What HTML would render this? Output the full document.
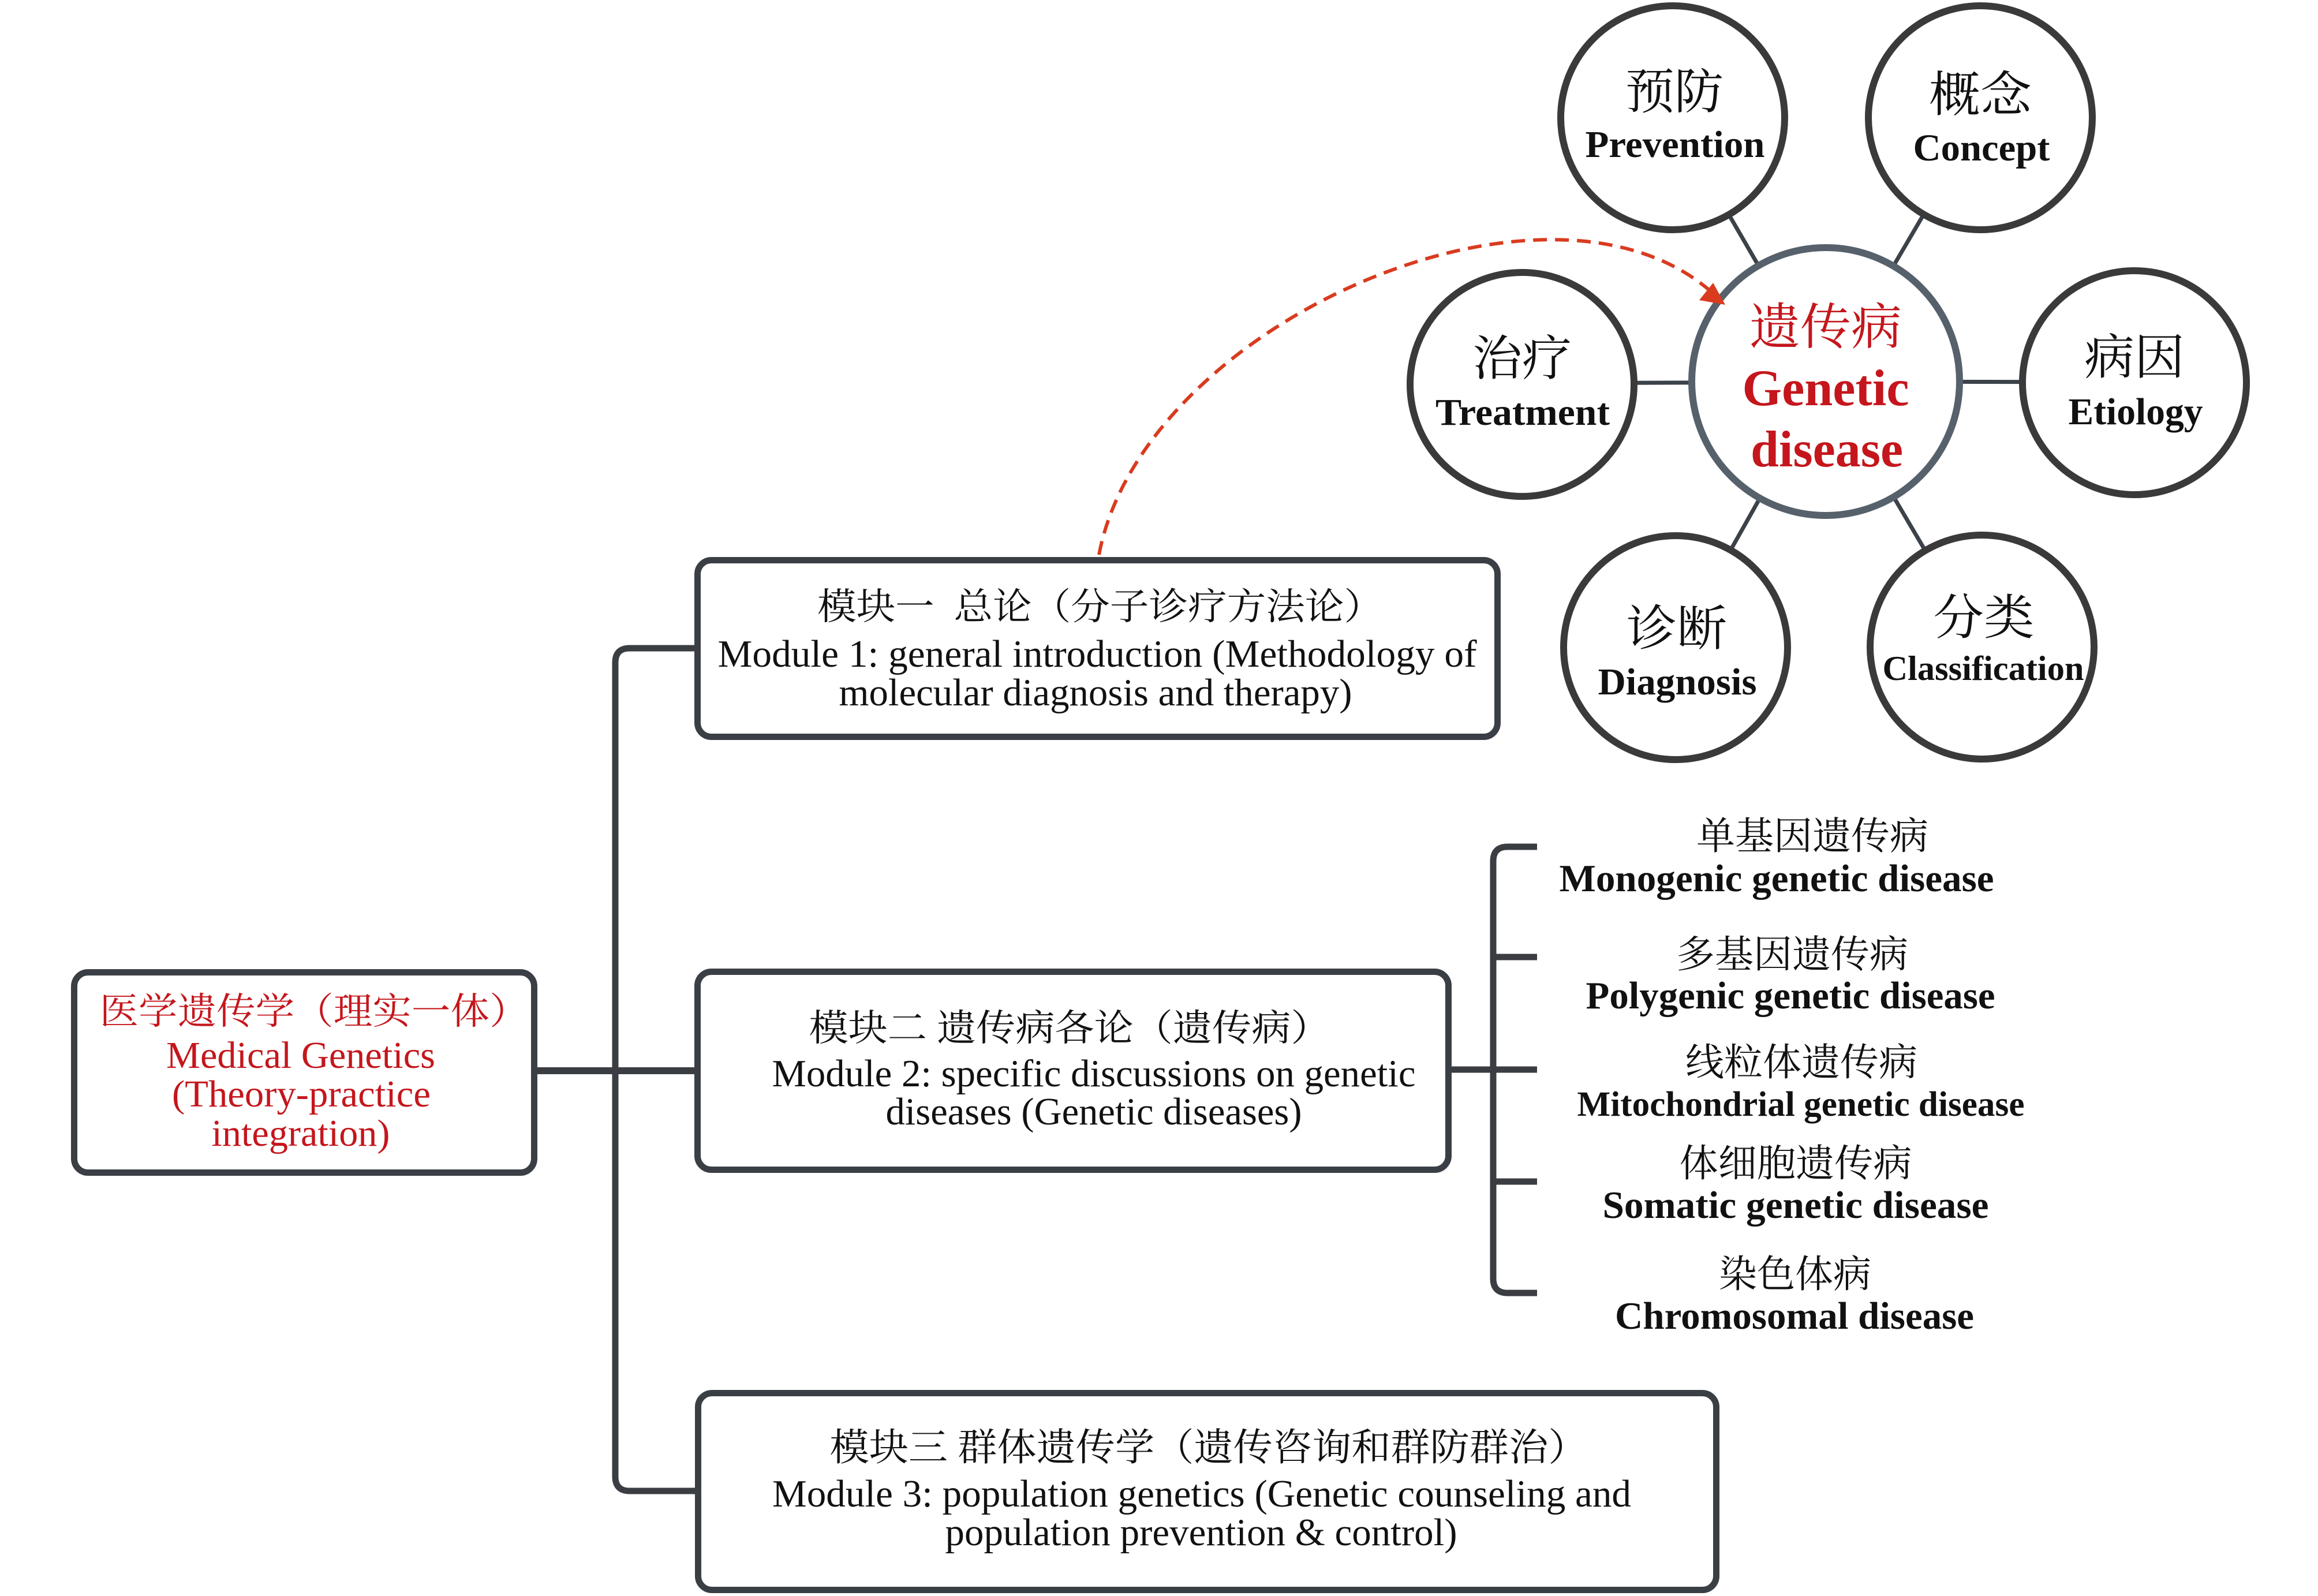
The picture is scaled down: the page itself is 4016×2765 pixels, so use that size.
<!DOCTYPE html>
<html>
<head>
<meta charset="utf-8">
<style>
  html, body { margin:0; padding:0; background:#ffffff; }
  svg { display:block; }
  .cn { font-family: "Liberation Serif", "Noto Serif CJK SC", "Noto Sans CJK SC", serif; }
  .en { font-family: "Liberation Serif", serif; }
  .b { font-weight: bold; }
</style>
</head>
<body>
<svg width="4016" height="2765" viewBox="0 0 4016 2765" xmlns="http://www.w3.org/2000/svg">
  <rect x="0" y="0" width="4016" height="2765" fill="#ffffff"/>

  <!-- Tree trunk and connectors -->
  <g fill="none" stroke="#3a3d42" stroke-width="11" stroke-linecap="butt">
    <path d="M 1206 1123 H 1091 Q 1066 1123 1066 1148 V 2558 Q 1066 2583 1091 2583 H 1206"/>
    <line x1="928" y1="1855" x2="1206" y2="1855" stroke-width="12"/>
    <line x1="2512" y1="1853" x2="2663" y2="1853" stroke-width="11"/>
    <!-- bracket -->
    <path d="M 2663 1467 H 2612 Q 2587 1467 2587 1492 V 2215 Q 2587 2240 2612 2240 H 2663"/>
    <line x1="2587" y1="1658" x2="2663" y2="1658"/>
    <line x1="2587" y1="2047" x2="2663" y2="2047"/>
  </g>

  <!-- Boxes -->
  <g fill="#ffffff" stroke="#3a3f45" stroke-width="11">
    <rect x="128.5" y="1684.5" width="797" height="347" rx="24" ry="24"/>
    <rect x="1208.5" y="970.5" width="1386" height="306" rx="24" ry="24"/>
    <rect x="1208.5" y="1683.5" width="1301" height="343" rx="24" ry="24"/>
    <rect x="1209.5" y="2413.5" width="1764" height="341" rx="24" ry="24"/>
  </g>

  <!-- Left box text (red) -->
  <g fill="#c4161c" text-anchor="middle">
    <text class="cn" x="544" y="1774" font-size="64" textLength="743" lengthAdjust="spacingAndGlyphs">医学遗传学（理实一体）</text>
    <text class="en" x="521" y="1850" font-size="66" textLength="466" lengthAdjust="spacingAndGlyphs">Medical Genetics</text>
    <text class="en" x="522" y="1917" font-size="66" textLength="448" lengthAdjust="spacingAndGlyphs">(Theory-practice</text>
    <text class="en" x="521" y="1985" font-size="66" textLength="309" lengthAdjust="spacingAndGlyphs">integration)</text>
  </g>

  <!-- Module texts -->
  <g fill="#111111" text-anchor="middle">
    <text class="cn" x="1906" y="1073" font-size="64" textLength="980" lengthAdjust="spacingAndGlyphs">模块一&#8194;总论（分子诊疗方法论）</text>
    <text class="en" x="1901" y="1155" font-size="67" textLength="1315" lengthAdjust="spacingAndGlyphs">Module 1: general introduction (Methodology of</text>
    <text class="en" x="1898" y="1222" font-size="67" textLength="889" lengthAdjust="spacingAndGlyphs">molecular diagnosis and therapy)</text>

    <text class="cn" x="1853" y="1803" font-size="64" textLength="903" lengthAdjust="spacingAndGlyphs">模块二 遗传病各论（遗传病）</text>
    <text class="en" x="1895" y="1882" font-size="67" textLength="1115" lengthAdjust="spacingAndGlyphs">Module 2: specific discussions on genetic</text>
    <text class="en" x="1895" y="1948" font-size="67" textLength="721" lengthAdjust="spacingAndGlyphs">diseases (Genetic diseases)</text>

    <text class="cn" x="2094" y="2530" font-size="66" textLength="1313" lengthAdjust="spacingAndGlyphs">模块三 群体遗传学（遗传咨询和群防群治）</text>
    <text class="en" x="2082" y="2610" font-size="67" textLength="1488" lengthAdjust="spacingAndGlyphs">Module 3: population genetics (Genetic counseling and</text>
    <text class="en" x="2081" y="2677" font-size="67" textLength="887" lengthAdjust="spacingAndGlyphs">population prevention &amp; control)</text>
  </g>

  <!-- Disease list -->
  <g fill="#111111" text-anchor="middle">
    <text class="cn" x="3140" y="1471" font-size="66" textLength="402" lengthAdjust="spacingAndGlyphs">单基因遗传病</text>
    <text class="en b" x="3078" y="1544" font-size="67" textLength="753" lengthAdjust="spacingAndGlyphs">Monogenic genetic disease</text>
    <text class="cn" x="3105" y="1676" font-size="66" textLength="402" lengthAdjust="spacingAndGlyphs">多基因遗传病</text>
    <text class="en b" x="3102" y="1747" font-size="67" textLength="709" lengthAdjust="spacingAndGlyphs">Polygenic genetic disease</text>
    <text class="cn" x="3121" y="1863" font-size="66" textLength="402" lengthAdjust="spacingAndGlyphs">线粒体遗传病</text>
    <text class="en b" x="3120" y="1933" font-size="61" textLength="775" lengthAdjust="spacingAndGlyphs">Mitochondrial genetic disease</text>
    <text class="cn" x="3111" y="2038" font-size="66" textLength="403" lengthAdjust="spacingAndGlyphs">体细胞遗传病</text>
    <text class="en b" x="3111" y="2110" font-size="67" textLength="669" lengthAdjust="spacingAndGlyphs">Somatic genetic disease</text>
    <text class="cn" x="3110" y="2230" font-size="66" textLength="264" lengthAdjust="spacingAndGlyphs">染色体病</text>
    <text class="en b" x="3109" y="2302" font-size="67" textLength="622" lengthAdjust="spacingAndGlyphs">Chromosomal disease</text>
  </g>

  <!-- Spokes (center to center, drawn under circles) -->
  <g stroke="#3b424a" stroke-width="7">
    <line x1="2898" y1="204" x2="3163" y2="661"/>
    <line x1="3431" y1="204" x2="3163" y2="661"/>
    <line x1="2637" y1="664" x2="3163" y2="662"/>
    <line x1="3698" y1="662" x2="3163" y2="661"/>
    <line x1="2903" y1="1122" x2="3163" y2="661"/>
    <line x1="3434" y1="1121" x2="3163" y2="661"/>
  </g>

  <!-- Outer circles -->
  <g fill="#ffffff" stroke="#3a3a3a" stroke-width="12">
    <circle cx="2898" cy="204" r="194"/>
    <circle cx="3431" cy="204" r="194"/>
    <circle cx="2637" cy="666" r="194"/>
    <circle cx="3698" cy="663" r="194"/>
    <circle cx="2903" cy="1122" r="194"/>
    <circle cx="3434" cy="1121" r="194"/>
  </g>
  <!-- Center circle -->
  <circle cx="3163" cy="661" r="232" fill="#ffffff" stroke="#56616b" stroke-width="12"/>

  <!-- Circle texts -->
  <g fill="#111111" text-anchor="middle">
    <text class="cn" x="2901" y="188" font-size="84" textLength="170" lengthAdjust="spacingAndGlyphs">预防</text>
    <text class="en b" x="2902" y="272" font-size="66" textLength="311" lengthAdjust="spacingAndGlyphs">Prevention</text>
    <text class="cn" x="3431" y="193" font-size="84" textLength="178" lengthAdjust="spacingAndGlyphs">概念</text>
    <text class="en b" x="3433" y="278" font-size="66" textLength="237" lengthAdjust="spacingAndGlyphs">Concept</text>
    <text class="cn" x="2637" y="650" font-size="84" textLength="172" lengthAdjust="spacingAndGlyphs">治疗</text>
    <text class="en b" x="2638" y="736" font-size="66" textLength="302" lengthAdjust="spacingAndGlyphs">Treatment</text>
    <text class="cn" x="3698" y="648" font-size="84" textLength="174" lengthAdjust="spacingAndGlyphs">病因</text>
    <text class="en b" x="3700" y="735" font-size="66" textLength="233" lengthAdjust="spacingAndGlyphs">Etiology</text>
    <text class="cn" x="2905" y="1118" font-size="84" textLength="174" lengthAdjust="spacingAndGlyphs">诊断</text>
    <text class="en b" x="2906" y="1203" font-size="66" textLength="275" lengthAdjust="spacingAndGlyphs">Diagnosis</text>
    <text class="cn" x="3437" y="1099" font-size="84" textLength="175" lengthAdjust="spacingAndGlyphs">分类</text>
    <text class="en b" x="3436" y="1178" font-size="60" textLength="349" lengthAdjust="spacingAndGlyphs">Classification</text>
  </g>
  <g fill="#c4161c" text-anchor="middle">
    <text class="cn" x="3163" y="596" font-size="86" textLength="264" lengthAdjust="spacingAndGlyphs">遗传病</text>
    <text class="en b" x="3163" y="702" font-size="89" textLength="289" lengthAdjust="spacingAndGlyphs">Genetic</text>
    <text class="en b" x="3165" y="808" font-size="89" textLength="264" lengthAdjust="spacingAndGlyphs">disease</text>
  </g>

  <!-- Dashed arrow -->
  <path d="M 1904 961 C 1980 560, 2690 250, 2972 512" fill="none" stroke="#d93b1f" stroke-width="6" stroke-dasharray="24 14"/>
  <polygon points="2989,528 2944,520 2968,490" fill="#d93b1f"/>
</svg>
</body>
</html>
